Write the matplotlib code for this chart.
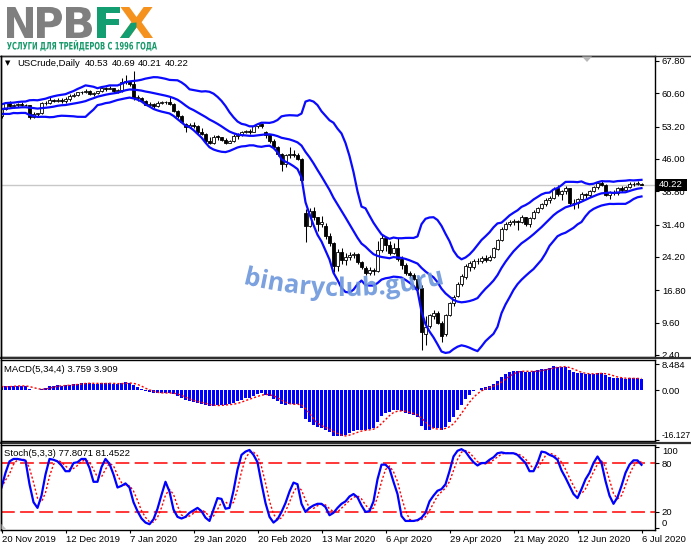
import numpy as np
import pandas as pd
import matplotlib
matplotlib.use("Agg")
import matplotlib.pyplot as plt
from matplotlib.textpath import TextPath
from matplotlib.patches import PathPatch, Polygon, Rectangle
from matplotlib.path import Path
from matplotlib.lines import Line2D
from matplotlib.font_manager import FontProperties
from matplotlib.transforms import Affine2D

plt.rcParams['font.family'] = ['Liberation Sans', 'DejaVu Sans']

# ---------------- data ----------------
symbol = "USCrude,Daily"
date_labels = ['20 Nov 2019', '12 Dec 2019', '7 Jan 2020', '29 Jan 2020', '20 Feb 2020',
               '13 Mar 2020', '6 Apr 2020', '29 Apr 2020', '21 May 2020', '12 Jun 2020', '6 Jul 2020']
label_bars = [0, 16, 32, 48, 64, 80, 96, 112, 128, 144, 160]

pre_close = [54.0, 54.6, 55.3, 55.8, 56.2, 56.4, 57.3, 56.2, 57.6, 57.0,
             57.8, 56.6, 57.5, 57.9, 56.8, 57.3, 57.6, 56.9, 56.3]

opens = [55.5, 57.1, 58.5, 57.8, 58.0, 58.3, 58.1, 58.0, 55.3, 56.0,
         56.2, 58.4, 58.5, 59.2, 59.0, 59.2, 58.9, 59.3, 60.1, 60.2,
         60.9, 60.8, 61.2, 60.5, 60.6, 61.1, 61.7, 61.6, 61.8, 61.1,
         61.3, 63.1, 63.3, 62.7, 59.6, 59.6, 59.0, 58.1, 58.2, 57.8,
         58.5, 58.6, 58.7, 58.3, 56.7, 55.6, 53.7, 53.1, 53.5, 53.3,
         52.1, 51.6, 50.1, 49.6, 51.0, 50.9, 50.3, 49.6, 49.9, 51.2,
         51.4, 52.0, 52.2, 52.1, 53.3, 53.8, 52.0, 51.4, 49.9, 48.7,
         47.1, 44.8, 46.8, 47.2, 46.8, 46.0, 34.0, 31.1, 34.4, 33.0,
         31.5, 31.2, 28.9, 27.3, 22.3, 25.4, 23.5, 24.1, 24.6, 24.8,
         23.0, 21.7, 20.7, 21.3, 21.1, 25.8, 28.4, 26.8, 25.2, 26.1,
         23.7, 22.5, 20.7, 20.1, 19.4, 17.4, 7.0, 8.9, 11.0, 11.8,
         9.6, 7.0, 11.4, 14.0, 15.6, 18.1, 19.8, 22.0, 21.9, 23.4,
         23.2, 23.9, 23.6, 24.1, 26.0, 27.9, 30.5, 31.6, 32.0, 32.3,
         31.9, 33.1, 31.5, 32.8, 34.3, 35.0, 35.9, 36.8, 37.3, 39.6,
         38.2, 38.8, 39.5, 36.2, 36.3, 37.2, 38.3, 37.9, 38.9, 39.7,
         40.6, 40.3, 38.0, 38.6, 38.4, 39.6, 39.2, 39.8, 40.5, 40.4,
         40.53]
highs = [57.4, 58.7, 58.8, 58.2, 58.5, 58.7, 58.3, 58.1, 56.4, 56.3,
         58.6, 59.0, 59.8, 59.4, 59.6, 59.5, 59.8, 60.5, 60.6, 61.0,
         61.1, 61.5, 61.4, 60.8, 61.2, 61.9, 62.0, 62.3, 61.9, 61.6,
         64.1, 64.7, 63.4, 65.6, 60.2, 59.9, 59.2, 58.6, 58.5, 58.8,
         59.0, 58.9, 59.7, 58.4, 56.9, 55.8, 53.9, 54.0, 54.3, 53.5,
         52.9, 51.8, 50.9, 51.4, 51.3, 51.0, 50.6, 50.3, 51.5, 51.7,
         52.3, 52.5, 52.6, 53.6, 54.0, 54.0, 52.2, 51.6, 50.4, 48.8,
         47.3, 47.0, 48.7, 48.0, 47.3, 46.2, 34.9, 35.0, 35.3, 33.2,
         33.3, 31.8, 29.6, 27.5, 26.0, 26.2, 25.0, 25.3, 25.4, 25.0,
         23.4, 22.2, 22.0, 21.8, 27.8, 29.1, 28.6, 27.8, 27.4, 28.4,
         24.5, 22.9, 21.0, 20.6, 19.8, 17.9, 11.0, 11.5, 12.4, 12.1,
         10.0, 11.6, 14.3, 15.8, 18.6, 20.4, 22.6, 23.2, 23.7, 24.0,
         24.4, 24.6, 24.7, 26.4, 28.2, 30.8, 32.0, 32.4, 32.6, 32.5,
         33.6, 33.2, 33.2, 34.6, 35.3, 36.2, 37.3, 37.8, 39.8, 40.3,
         39.0, 40.0, 39.6, 37.0, 37.4, 38.6, 38.5, 39.2, 40.0, 40.9,
         41.4, 40.5, 38.9, 39.0, 39.8, 39.9, 40.0, 40.9, 40.8, 41.0,
         40.69]
lows = [55.2, 56.9, 57.6, 57.4, 57.6, 57.8, 57.8, 55.0, 55.1, 55.4,
        56.1, 58.0, 58.2, 58.7, 58.7, 58.5, 58.4, 58.9, 59.9, 60.0,
        60.4, 60.6, 60.2, 60.1, 60.4, 61.0, 61.2, 61.5, 60.6, 60.6,
        61.0, 62.7, 62.3, 59.2, 58.8, 58.9, 57.9, 57.8, 57.4, 57.6,
        58.3, 58.2, 57.9, 56.4, 55.1, 53.9, 52.1, 52.8, 53.0, 51.3,
        51.3, 49.4, 49.3, 49.4, 50.2, 49.9, 49.3, 49.5, 49.8, 50.5,
        51.1, 51.8, 51.6, 52.0, 52.9, 52.8, 50.7, 49.6, 48.4, 46.6,
        43.3, 44.3, 46.3, 46.5, 45.8, 41.1, 27.5, 30.9, 32.4, 30.0,
        30.9, 28.3, 26.6, 20.8, 21.0, 22.6, 22.5, 23.5, 23.9, 22.6,
        21.5, 20.1, 20.2, 20.3, 20.8, 25.4, 25.5, 24.6, 24.8, 23.2,
        21.5, 20.3, 19.6, 19.0, 16.9, 3.6, 4.6, 8.4, 10.5, 9.3,
        5.2, 6.7, 11.0, 13.3, 15.3, 17.8, 19.4, 21.0, 21.5, 22.6,
        22.9, 23.1, 23.3, 23.9, 25.8, 27.7, 30.2, 31.0, 31.3, 30.2,
        31.7, 31.0, 30.9, 32.6, 34.0, 34.8, 35.6, 36.3, 37.1, 37.8,
        36.9, 38.2, 35.6, 34.9, 35.1, 37.0, 37.3, 37.5, 38.6, 39.4,
        39.9, 37.7, 37.2, 37.9, 38.0, 38.7, 38.9, 39.6, 40.1, 40.2,
        40.21]
closes = [57.1, 58.5, 57.8, 58.0, 58.3, 58.1, 58.0, 55.3, 56.0, 56.1,
          58.4, 58.5, 59.2, 59.0, 59.2, 58.9, 59.3, 60.1, 60.2, 60.9,
          60.8, 61.2, 60.5, 60.6, 61.1, 61.7, 61.6, 61.8, 61.1, 61.3,
          63.1, 63.3, 62.7, 59.6, 59.6, 59.0, 58.1, 58.2, 57.8, 58.5,
          58.6, 58.7, 58.3, 56.7, 55.6, 54.2, 53.1, 53.5, 53.3, 52.1,
          51.6, 50.1, 49.6, 51.0, 50.9, 50.3, 49.6, 49.9, 51.2, 51.4,
          52.0, 52.2, 52.1, 53.3, 53.8, 53.4, 51.4, 49.9, 48.7, 47.1,
          44.8, 46.8, 47.2, 46.8, 46.0, 41.3, 31.1, 34.4, 33.0, 31.5,
          32.0, 28.9, 27.3, 22.3, 25.4, 23.5, 24.1, 24.6, 24.8, 23.0,
          21.9, 20.7, 21.3, 21.1, 25.8, 28.4, 26.8, 25.2, 26.1, 23.7,
          22.5, 20.7, 20.1, 19.4, 17.4, 7.5, 8.7, 11.2, 11.8, 9.6,
          6.6, 11.2, 14.0, 15.4, 18.2, 20.0, 22.2, 22.8, 23.4, 23.2,
          23.9, 23.6, 24.1, 26.1, 27.9, 30.5, 31.6, 32.0, 32.3, 31.9,
          33.1, 31.5, 32.8, 34.3, 35.0, 35.9, 36.8, 37.3, 39.4, 38.2,
          38.8, 39.5, 36.2, 36.3, 37.2, 38.3, 37.9, 38.9, 39.7, 40.6,
          40.3, 38.0, 38.6, 38.4, 39.6, 39.2, 39.8, 40.5, 40.4, 40.6,
          40.22]
stoch_main = [50, 68, 82, 85, 85, 84, 83, 54, 32, 25,
              40, 66, 85, 84, 82, 77, 70, 70, 80, 81,
              85, 85, 74, 57, 57, 75, 85, 79, 66, 50,
              52, 55, 50, 32, 21, 12, 7, 5, 11, 24,
              41, 57, 45, 23, 14, 12, 14, 19, 22, 25,
              21, 13, 9, 23, 37, 36, 24, 25, 46, 72,
              90, 94, 96, 90, 81, 55, 31, 14, 7, 11,
              20, 31, 45, 56, 54, 30, 20, 25, 28, 30,
              30, 26, 16, 19, 25, 30, 33, 39, 42, 38,
              28, 20, 21, 33, 60, 78, 78, 73, 57, 42,
              15, 9, 9, 9, 10, 13, 19, 33, 40, 46,
              48, 54, 70, 88, 95, 97, 94, 87, 81, 77,
              80, 80, 84, 87, 92, 93, 92, 92, 92, 90,
              85, 80, 70, 70, 80, 94, 93, 90, 88, 84,
              71, 62, 52, 42, 37, 48, 60, 68, 80, 88,
              80, 58, 40, 30, 38, 52, 68, 78, 83.3, 83.25,
              77.8071]
price_ticks = [67.80, 60.60, 53.20, 46.00, 38.80, 31.40, 24.20, 16.80, 9.60, 2.40]
macd_ticks = [8.484, 0.0, -16.127]
macd_tick_labels = ['8.484', '0.00', '-16.127']
macd_header = "MACD(5,34,4) 3.759 3.909"
stoch_ticks = [100, 80, 20, 0]
stoch_levels = [80, 20]
stoch_header = "Stoch(5,3,3) 77.8071 81.4522"
bb_period = 15

# ---------------- derived indicators ----------------
n = len(closes)
x = np.arange(n)
o = np.array(opens); h = np.array(highs); l = np.array(lows); c = np.array(closes)
full = pd.Series(pre_close + closes)
bb_mid = full.rolling(bb_period).mean().to_numpy()[-n:]
bb_sd = full.rolling(bb_period).std(ddof=0).to_numpy()[-n:]
bb_up = bb_mid + 2 * bb_sd
bb_lo = bb_mid - 2 * bb_sd
ema5 = full.ewm(span=5, adjust=False).mean()
ema34 = full.ewm(span=34, adjust=False).mean()
macd_full = ema5 - ema34
macd = macd_full.to_numpy()[-n:]
macd_sig = macd_full.rolling(4).mean().to_numpy()[-n:]
st_k = pd.Series(stoch_main)
st_d = st_k.rolling(3, min_periods=1).mean().to_numpy()

# ---------------- figure ----------------
W, H = 691, 549
fig = plt.figure(figsize=(W / 100, H / 100), dpi=100)
fig.patch.set_facecolor('white')


def rect(x0, x1, yt, yb):
    return [x0 / W, 1 - yb / H, (x1 - x0) / W, (yb - yt) / H]


ax_p = fig.add_axes(rect(1, 655, 56, 357))
ax_m = fig.add_axes(rect(1, 655, 360, 441))
ax_s = fig.add_axes(rect(1, 655, 445, 530))
XL = (-0.125, 163.375)
for ax in (ax_p, ax_m, ax_s):
    ax.set_xlim(*XL)
    ax.yaxis.tick_right()
    ax.tick_params(axis='y', direction='out', length=3, width=0.8, pad=2,
                   labelsize=6.8, left=False, labelleft=False, right=True, labelright=True)
    for sp in ax.spines.values():
        sp.set_color('black')
        sp.set_linewidth(1.0)
ax_p.set_xticks([])
ax_m.set_xticks([])

# price panel
ax_p.set_ylim(1.955, 68.91)
ax_p.set_yticks(price_ticks)
ax_p.set_yticklabels([f"{v:.2f}" for v in price_ticks])
ax_p.axhline(c[-1], color='#c8c8c8', lw=1.0, zorder=1)
up = c >= o
ax_p.vlines(x, l, h, color='black', lw=0.75, zorder=2)
bb = np.minimum(o, c)
bh = np.maximum(np.abs(c - o), 0.12)
ax_p.bar(x[up], bh[up], bottom=bb[up], width=0.62, facecolor='white',
         edgecolor='black', linewidth=0.6, zorder=2.5)
ax_p.bar(x[~up], bh[~up], bottom=bb[~up], width=0.62, facecolor='black',
         edgecolor='black', linewidth=0.6, zorder=2.5)
for band in (bb_up, bb_mid, bb_lo):
    ax_p.plot(x, band, color='#0a0aff', lw=1.6, zorder=3, solid_joinstyle='round')

# MACD panel
ax_m.set_ylim(-16.45, 9.88)
ax_m.bar(x, macd, width=0.7, color='#0000ff', zorder=2)
ax_m.plot(x, macd_sig, color='#ff0000', lw=1.0, ls=(0, (1.5, 1.5)), zorder=3)
ax_m.set_yticks(macd_ticks)
ax_m.set_yticklabels(macd_tick_labels)
mlabs = ax_m.get_yticklabels()
mlabs[-1].set_va('bottom')
mlabs[-1].set_fontsize(6.2)

# Stoch panel
ax_s.set_ylim(-2.1, 102.1)
for lv in stoch_levels:
    ax_s.axhline(lv, color='#ff0000', lw=1.1, ls=(0, (9, 3.5)), zorder=1)
ax_s.plot(x, st_d, color='#ff0000', lw=1.0, ls=(0, (1.5, 1.5)), zorder=2)
ax_s.plot(x, stoch_main, color='#0000ff', lw=1.6, zorder=3)
ax_s.set_yticks(stoch_ticks)
ax_s.set_yticklabels([str(v) for v in stoch_ticks])
labs = ax_s.get_yticklabels()
labs[0].set_va('top')
labs[-1].set_va('bottom')
ax_s.set_xticks(label_bars)
ax_s.set_xticklabels(date_labels)
ax_s.tick_params(axis='x', direction='out', length=2, width=0.8, pad=1.5, labelsize=6.8)
for lab in ax_s.get_xticklabels():
    lab.set_ha('left')


def fx(px):
    return px / W


def fy(py):
    return 1 - py / H


# separators / frame lines
for yy, lw in ((56, 1.0), (357.5, 1.6), (442.5, 1.6)):
    fig.add_artist(Line2D([0, 1], [fy(yy), fy(yy)], color='#303030', lw=lw))
fig.add_artist(Line2D([fx(0.5), fx(0.5)], [fy(56), fy(530)], color='black', lw=1.0))

# headers
fig.text(fx(4.5), fy(63.5), '\u25BC', fontsize=5, va='center', family='DejaVu Sans')
fig.text(fx(17), fy(63.5), symbol, fontsize=6.8, va='center')
for k, v in enumerate((o[-1], h[-1], l[-1], c[-1])):
    fig.text(fx(85 + 26.5 * k), fy(63.5), f"{v:.2f}", fontsize=6.8, va='center')
fig.text(fx(4.5), fy(369), macd_header, fontsize=6.8, va='center')
fig.text(fx(4.5), fy(453.5), stoch_header, fontsize=6.8, va='center')

# last price box
fig.add_artist(Rectangle((fx(655.5), fy(190.5)), (687 - 655.5) / W, 11.5 / H,
                         transform=fig.transFigure, facecolor='black', edgecolor='none', zorder=6))
fig.text(fx(671), fy(184.8), f"{c[-1]:.2f}", fontsize=6.8, color='white',
         ha='center', va='center', zorder=7)

# small grey markers
fig.add_artist(Polygon([[fx(582), fy(56.5)], [fx(592), fy(56.5)], [fx(587), fy(62)]],
                       closed=True, transform=fig.transFigure, facecolor='#b8b8b8', edgecolor='none', zorder=6))
fig.add_artist(Polygon([[fx(1.5), fy(529)], [fx(1.5), fy(524)], [fx(6), fy(529)]],
                       closed=True, transform=fig.transFigure, facecolor='#c0c0c0', edgecolor='none', zorder=6))


# logo (glyph outlines fitted into boxes)
def glyph(s, fp, x0, x1, base, cap, color, ref='H', clip=None):
    tp = TextPath((0, 0), s, size=100, prop=fp)
    ext = tp.get_extents()
    capr = TextPath((0, 0), ref, size=100, prop=fp).get_extents().y1
    sx = (x1 - x0) / ext.width
    sy = cap / capr
    tr = (Affine2D().translate(-ext.x0, 0).scale(sx, sy).translate(x0, H - base)
          + Affine2D().scale(1 / W, 1 / H) + fig.transFigure)
    patch = PathPatch(tp, facecolor=color, edgecolor='none', transform=tr, zorder=8)
    fig.add_artist(patch)
    if clip is not None:
        cp = Polygon([[fx(px_), fy(py_)] for px_, py_ in clip], closed=True,
                     transform=fig.transFigure, facecolor='none', edgecolor='none')
        fig.add_artist(cp)
        patch.set_clip_path(cp)
    return patch


fpb = FontProperties(family='DejaVu Sans', weight='bold')
gray, green, orange = '#7f7f7f', '#129e70', '#f5921e'
glyph('N', fpb, 7, 33, 38, 31, gray)
glyph('P', fpb, 37, 62, 38, 31, gray)
glyph('B', fpb, 66, 92, 38, 31, gray)
glyph('F', fpb, 97, 120, 38, 31, green)
glyph('X', fpb, 120, 153, 38, 31, orange)
glyph('X', fpb, 120, 153, 38, 31, green, clip=[(118, 24), (136.5, 22.5), (136.5, 40), (118, 40)])
glyph('УСЛУГИ ДЛЯ ТРЕЙДЕРОВ С 1996 ГОДА', fpb, 7, 157, 49.5, 7.5, '#17996b', ref='Н')

# watermark on an arc
fpw = FontProperties(family='Open Sans', weight='bold')
tp = TextPath((0, 0), 'binaryclub.guru', size=100, prop=fpw)
ext = tp.get_extents()
sc = 200.0 / ext.width
vx = (tp.vertices[:, 0] - (ext.x0 + ext.x1) / 2) * sc
vy = tp.vertices[:, 1] * sc
R = 420.0
th = vx / R
cx, base_mid = 344.0, 296.0
px_x = cx + (R - vy) * np.sin(th)
px_y = (base_mid - R) + (R - vy) * np.cos(th)
wpath = Path(np.column_stack([px_x / W, 1 - px_y / H]), tp.codes)
fig.add_artist(PathPatch(wpath, transform=fig.transFigure, facecolor='#6d97dc',
                         edgecolor='none', alpha=0.9, zorder=5))

fig.savefig('out.png', dpi=100, facecolor='white')
